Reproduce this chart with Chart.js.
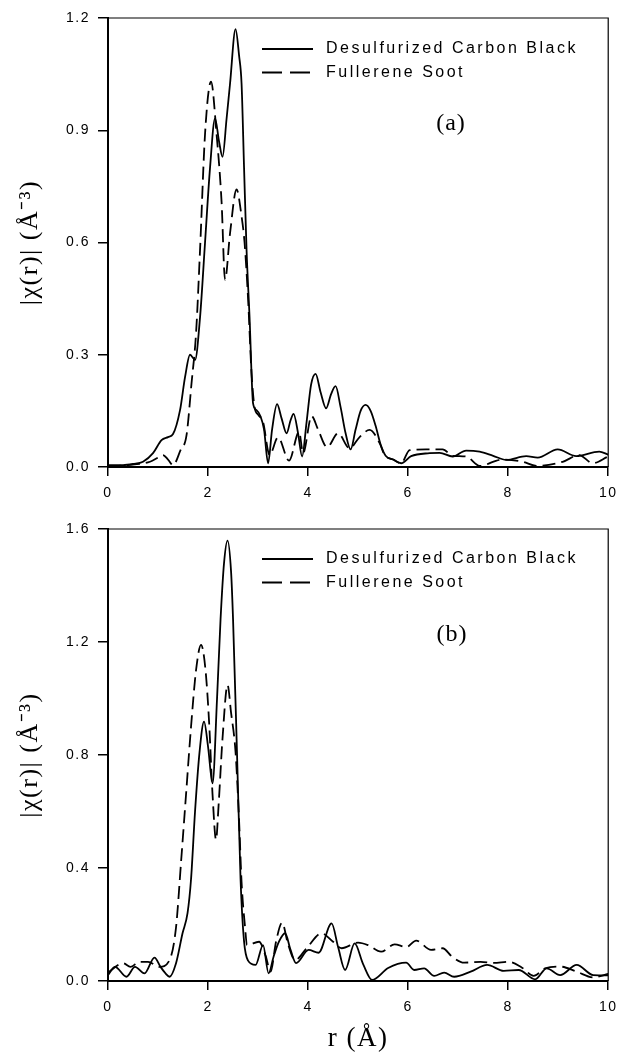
<!DOCTYPE html>
<html>
<head>
<meta charset="utf-8">
<script src="https://cdn.jsdelivr.net/npm/chart.js@4.4.0/dist/chart.umd.min.js"></script>
<style>
  body { margin: 0; background: #fff; width: 625px; height: 1055px; overflow: hidden; }
  .panel { position: absolute; left: 0; width: 625px; }
</style>
</head>
<body>
<div class="panel" style="top:0;height:520px"><canvas id="chartA" width="625" height="520"></canvas></div>
<div class="panel" style="top:505px;height:550px"><canvas id="chartB" width="625" height="550"></canvas></div>
<script>
// ---- datos ----
const seriesNames = ['Desulfurized Carbon Black', 'Fullerene Soot'];

// panel (a)
const rA_cb = [0, 0.3, 0.5, 0.7, 0.9, 1.07, 1.2, 1.3, 1.44, 1.54, 1.64, 1.74, 1.84, 1.94, 2.04, 2.14, 2.22, 2.29, 2.37, 2.44, 2.55, 2.62, 2.67, 2.72, 2.77, 2.83, 2.9, 2.97, 3.05, 3.12, 3.2, 3.28, 3.38, 3.47, 3.57, 3.65, 3.71, 3.8, 3.88, 3.97, 4.06, 4.15, 4.25, 4.36, 4.46, 4.55, 4.65, 4.75, 4.85, 4.95, 5.05, 5.15, 5.25, 5.35, 5.45, 5.55, 5.7, 5.86, 6.06, 6.43, 6.63, 6.89, 7.16, 7.43, 7.7, 7.96, 8.36, 8.59, 8.99, 9.36, 9.82, 10];
const chiA_cb = [0.005, 0.005, 0.008, 0.014, 0.037, 0.072, 0.080, 0.088, 0.152, 0.24, 0.30, 0.286, 0.40, 0.60, 0.80, 0.932, 0.87, 0.829, 0.93, 1.025, 1.17, 1.10, 1.025, 0.80, 0.58, 0.40, 0.17, 0.152, 0.135, 0.10, 0.01, 0.10, 0.168, 0.13, 0.09, 0.125, 0.142, 0.09, 0.028, 0.12, 0.22, 0.249, 0.20, 0.157, 0.195, 0.216, 0.16, 0.09, 0.047, 0.10, 0.15, 0.166, 0.15, 0.11, 0.06, 0.03, 0.02, 0.01, 0.029, 0.037, 0.038, 0.028, 0.044, 0.041, 0.03, 0.019, 0.029, 0.025, 0.047, 0.029, 0.041, 0.033];
const rA_fs = [0, 0.4, 0.84, 1.0, 1.1, 1.2, 1.3, 1.45, 1.57, 1.67, 1.76, 1.84, 1.94, 2.06, 2.17, 2.27, 2.34, 2.44, 2.57, 2.67, 2.73, 2.8, 2.87, 2.93, 3.0, 3.1, 3.23, 3.4, 3.62, 3.82, 3.9, 4.07, 4.2, 4.38, 4.6, 4.83, 5.03, 5.23, 5.43, 5.53, 5.7, 5.86, 6.03, 6.36, 6.69, 6.89, 7.16, 7.43, 7.88, 8.29, 8.56, 9.09, 9.42, 9.69, 10];
const chiA_fs = [0.002, 0.005, 0.014, 0.025, 0.032, 0.02, 0.005, 0.045, 0.085, 0.224, 0.357, 0.58, 0.89, 1.03, 0.89, 0.71, 0.50, 0.625, 0.742, 0.67, 0.60, 0.45, 0.25, 0.16, 0.14, 0.12, 0.032, 0.079, 0.017, 0.094, 0.037, 0.136, 0.10, 0.053, 0.09, 0.05, 0.08, 0.099, 0.064, 0.032, 0.02, 0.01, 0.045, 0.047, 0.047, 0.03, 0.028, 0.003, 0.02, 0.014, 0.003, 0.014, 0.032, 0.01, 0.028];

// panel (b)
const rB_cb = [0, 0.14, 0.37, 0.54, 0.73, 0.93, 1.05, 1.15, 1.23, 1.36, 1.49, 1.59, 1.66, 1.74, 1.83, 1.92, 2.0, 2.09, 2.18, 2.25, 2.32, 2.39, 2.46, 2.5, 2.58, 2.65, 2.72, 2.8, 2.95, 3.1, 3.21, 3.31, 3.42, 3.54, 3.65, 3.76, 4.01, 4.21, 4.47, 4.6, 4.74, 4.93, 5.1, 5.28, 5.6, 5.96, 6.12, 6.32, 6.52, 6.72, 6.92, 7.25, 7.58, 7.91, 8.21, 8.54, 8.77, 9.04, 9.37, 9.7, 10];
const chiB_cb = [0.021, 0.05, 0.015, 0.05, 0.027, 0.083, 0.05, 0.027, 0.015, 0.063, 0.169, 0.24, 0.36, 0.6, 0.81, 0.918, 0.83, 0.70, 1.0, 1.28, 1.48, 1.559, 1.45, 1.28, 0.80, 0.36, 0.14, 0.072, 0.057, 0.127, 0.027, 0.086, 0.14, 0.169, 0.11, 0.063, 0.11, 0.10, 0.204, 0.12, 0.039, 0.133, 0.06, 0.004, 0.046, 0.065, 0.039, 0.045, 0.018, 0.03, 0.015, 0.033, 0.057, 0.036, 0.039, 0.006, 0.045, 0.021, 0.057, 0.021, 0.02];
const rB_fs = [0, 0.3, 0.45, 0.63, 0.8, 1.03, 1.23, 1.36, 1.46, 1.56, 1.66, 1.76, 1.86, 1.95, 2.02, 2.09, 2.16, 2.21, 2.29, 2.39, 2.46, 2.55, 2.62, 2.67, 2.74, 2.78, 3.02, 3.15, 3.25, 3.36, 3.48, 3.6, 3.74, 3.97, 4.27, 4.5, 4.67, 5.0, 5.2, 5.46, 5.73, 5.96, 6.16, 6.46, 6.69, 6.88, 7.12, 7.45, 7.71, 8.01, 8.27, 8.51, 8.74, 9.04, 9.37, 9.7, 10];
const chiB_fs = [0.03, 0.063, 0.05, 0.068, 0.068, 0.05, 0.074, 0.19, 0.42, 0.66, 0.90, 1.10, 1.19, 1.10, 0.92, 0.66, 0.50, 0.62, 0.86, 1.048, 0.95, 0.81, 0.57, 0.35, 0.19, 0.127, 0.139, 0.09, 0.033, 0.14, 0.206, 0.13, 0.074, 0.116, 0.169, 0.139, 0.116, 0.136, 0.127, 0.104, 0.13, 0.12, 0.143, 0.11, 0.116, 0.086, 0.065, 0.068, 0.064, 0.068, 0.048, 0.018, 0.045, 0.051, 0.033, 0.013, 0.025];

// ticks
const xTicks = [0, 2, 4, 6, 8, 10];
const yTicksA = [0, 0.3, 0.6, 0.9, 1.2];
const yTicksB = [0, 0.4, 0.8, 1.2, 1.6];

const yTitle = '|\u03c7(r)| (\u00c5\u207b\u00b3)';
const xTitle = 'r (\u00c5)';

// ---- helpers ----
function puntos(rs, vs) {
    return rs.map((r, i) => ({ x: r, y: vs[i] }));
}

function serie(label, rs, vs, dash) {
    return {
        label: label,
        data: puntos(rs, vs),
        borderColor: '#000',
        borderWidth: 1.8,
        borderDash: dash,
        pointRadius: 0,
        fill: false,
        cubicInterpolationMode: 'monotone'
    };
}

// marco, leyenda y letra del panel
const decor = {
    id: 'decor',
    beforeDraw(chart) {
        chart.ctx.letterSpacing = '1.5px';
    },
    afterDraw(chart, args, opts) {
        const ctx = chart.ctx;
        const a = chart.chartArea;
        ctx.save();
        ctx.strokeStyle = '#000';
        ctx.fillStyle = '#000';
        ctx.lineWidth = 1.2;
        ctx.beginPath();
        ctx.moveTo(a.left, a.top);
        ctx.lineTo(a.right, a.top);
        ctx.lineTo(a.right, a.bottom);
        ctx.stroke();

        // leyenda
        ctx.font = '16px "Liberation Sans", Arial, sans-serif';
        ctx.letterSpacing = '2.5px';
        ctx.textBaseline = 'middle';
        ctx.textAlign = 'left';
        ctx.lineWidth = 1.8;
        chart.data.datasets.forEach((ds, i) => {
            const y = a.top + opts.legendTop + i * 23.5;
            ctx.setLineDash(ds.borderDash.length ? [20, 8] : []);
            ctx.beginPath();
            ctx.moveTo(opts.legendX, y);
            ctx.lineTo(opts.legendX + 51, y);
            ctx.stroke();
            ctx.setLineDash([]);
            ctx.fillText(ds.label, opts.legendX + 64, y);
        });

        // (a) / (b)
        ctx.font = '24px "Liberation Serif", "Times New Roman", serif';
        ctx.letterSpacing = '1px';
        ctx.textAlign = 'center';
        ctx.fillText(opts.letter, opts.letterX, opts.letterY);
        ctx.restore();
    }
};

function opciones(yMax, yTicks, conTituloX, pad, altoX, deco) {
    return {
        responsive: false,
        animation: false,
        layout: { padding: pad },
        plugins: {
            legend: { display: false },
            tooltip: { enabled: false },
            decor: deco
        },
        scales: {
            x: {
                type: 'linear',
                min: 0,
                max: 10,
                afterBuildTicks: (s) => { s.ticks = xTicks.map(v => ({ value: v })); },
                afterFit: (s) => { s.height = altoX; },
                ticks: {
                    color: '#000',
                    padding: 9,
                    maxRotation: 0,
                    font: { family: '"Liberation Sans", Arial, sans-serif', size: 14 },
                    callback: (v) => String(v)
                },
                grid: { drawOnChartArea: false, tickLength: 9, color: '#000', lineWidth: 1.5 },
                border: { display: true, color: '#000', width: 2 },
                title: {
                    display: conTituloX,
                    text: xTitle,
                    color: '#000',
                    padding: { top: 0, bottom: 0 },
                    font: { family: '"Liberation Serif", "Times New Roman", serif', size: 27 }
                }
            },
            y: {
                type: 'linear',
                min: 0,
                max: yMax,
                afterBuildTicks: (s) => { s.ticks = yTicks.map(v => ({ value: v })); },
                afterFit: (s) => { s.width = 108; },
                ticks: {
                    color: '#000',
                    padding: 8,
                    font: { family: '"Liberation Sans", Arial, sans-serif', size: 14 },
                    callback: (v) => Number(v).toFixed(1)
                },
                grid: { drawOnChartArea: false, tickLength: 10, color: '#000', lineWidth: 1.5 },
                border: { display: true, color: '#000', width: 2 },
                title: {
                    display: true,
                    text: yTitle,
                    color: '#000',
                    padding: { top: 15, bottom: 0 },
                    font: { family: '"Liberation Serif", "Times New Roman", serif', size: 26 }
                }
            }
        }
    };
}

const chartA = new Chart(document.getElementById('chartA'), {
    type: 'line',
    data: {
        datasets: [
            serie(seriesNames[0], rA_cb, chiA_cb, []),
            serie(seriesNames[1], rA_fs, chiA_fs, [13, 6])
        ]
    },
    options: opciones(1.2, yTicksA, false,
        { left: 0, right: 16, top: 18, bottom: 0 }, 53,
        { legendX: 262, legendTop: 31, letter: '(a)', letterX: 451, letterY: 124 }),
    plugins: [decor]
});

const chartB = new Chart(document.getElementById('chartB'), {
    type: 'line',
    data: {
        datasets: [
            serie(seriesNames[0], rB_cb, chiB_cb, []),
            serie(seriesNames[1], rB_fs, chiB_fs, [13, 6])
        ]
    },
    options: opciones(1.6, yTicksB, true,
        { left: 0, right: 13, top: 24, bottom: 0 }, 74,
        { legendX: 262, legendTop: 30, letter: '(b)', letterX: 452, letterY: 130 }),
    plugins: [decor]
});
</script>
</body>
</html>
